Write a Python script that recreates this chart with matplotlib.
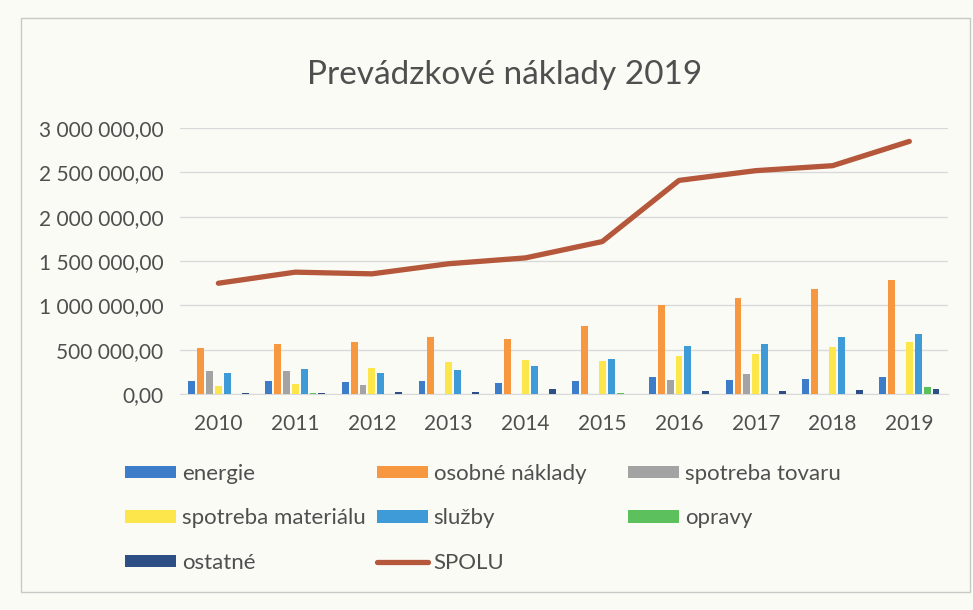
import matplotlib
matplotlib.use("Agg")
import matplotlib.pyplot as plt
from matplotlib.patches import Patch, Rectangle
from matplotlib.lines import Line2D
from matplotlib.ticker import FuncFormatter
import numpy as np

years = ["2010", "2011", "2012", "2013", "2014", "2015", "2016", "2017", "2018", "2019"]
energie = [148000, 150000, 135000, 146000, 127000, 142000, 190000, 158000, 170000, 189000]
osobne_naklady = [519000, 562000, 592000, 648000, 625000, 771000, 1007000, 1082000, 1183000, 1288000]
spotreba_tovaru = [260000, 262000, 101000, 0, 0, 0, 156000, 228000, 0, 0]
spotreba_materialu = [92000, 109000, 292000, 356000, 382000, 374000, 430000, 448000, 535000, 583000]
sluzby = [237000, 281000, 236000, 270000, 311000, 400000, 546000, 562000, 644000, 676000]
opravy = [0, 10000, 0, 0, 0, 15000, 0, 0, 0, 82000]
ostatne = [12000, 10000, 28000, 22000, 60000, 5000, 37000, 40000, 45000, 56000]
spolu = [1250000, 1375000, 1356000, 1470000, 1536000, 1720000, 2410000, 2520000, 2576000, 2850000]
y_ticks = [0, 500000, 1000000, 1500000, 2000000, 2500000, 3000000]

series = [
    ("energie", energie, "#3d7cc9"),
    ("osobné náklady", osobne_naklady, "#f7973f"),
    ("spotreba tovaru", spotreba_tovaru, "#a3a3a3"),
    ("spotreba materiálu", spotreba_materialu, "#fde64b"),
    ("služby", sluzby, "#3f9ad8"),
    ("opravy", opravy, "#5cc15c"),
    ("ostatné", ostatne, "#2e4f86"),
]
spolu_color = "#b5573a"
txt = "#4f4f4f"
bg = "#fbfbf6"

plt.rcParams["font.family"] = ["Lato", "DejaVu Sans"]

fig = plt.figure(figsize=(9.73, 6.10), dpi=100, facecolor=bg)
ax = fig.add_axes([0.185, 0.354, 0.789, 0.436])
ax.set_facecolor(bg)

x = np.arange(len(years))
step = 0.116
width = 0.09
handles = {}
for i, (name, vals, col) in enumerate(series):
    ax.bar(x + (i - 3) * step, vals, width=width, color=col, zorder=3)
    handles[name] = Patch(facecolor=col)
ax.plot(x, spolu, color=spolu_color, lw=3.8, solid_capstyle="round", zorder=4)
handles["SPOLU"] = Line2D([0], [0], color=spolu_color, lw=3.8, solid_capstyle="round")

ax.set_xlim(-0.5, len(years) - 0.5)
ax.set_ylim(0, 3000000)
ax.set_yticks(y_ticks)
ax.yaxis.set_major_formatter(FuncFormatter(lambda v, p: f"{v:,.2f}".replace(",", " ").replace(".", ",")))
ax.set_xticks(x)
ax.set_xticklabels(years)
ax.grid(axis="y", color="#d9d9d9", lw=1, zorder=0)
for s in ["top", "right", "left"]:
    ax.spines[s].set_visible(False)
ax.spines["bottom"].set_color("#d9d9d9")
ax.tick_params(axis="both", length=0, colors=txt)
ax.tick_params(axis="x", pad=14, labelsize=15)
ax.tick_params(axis="y", pad=12, labelsize=15)

fig.text(0.519, 0.877, "Prevádzkové náklady 2019", ha="center", va="center", fontsize=24, color=txt)

cols = [
    (["energie", "spotreba materiálu", "ostatné"], 125),
    (["osobné náklady", "služby", "SPOLU"], 377),
    (["spotreba tovaru", "opravy"], 628),
]
for names, xpx in cols:
    fig.legend([handles[n] for n in names], names, loc="upper left",
               bbox_to_anchor=(xpx / 973, 1 - 464 / 610), frameon=False,
               fontsize=16, labelcolor=txt, handlelength=2.3, handleheight=0.5,
               handletextpad=0.25, labelspacing=1.1, borderpad=0, borderaxespad=0)

fig.add_artist(Rectangle((0.022, 0.03), 0.975, 0.94, transform=fig.transFigure,
                         fill=False, edgecolor="#c8c8c8", lw=1))

fig.savefig("out.png", dpi=100, facecolor=bg)
